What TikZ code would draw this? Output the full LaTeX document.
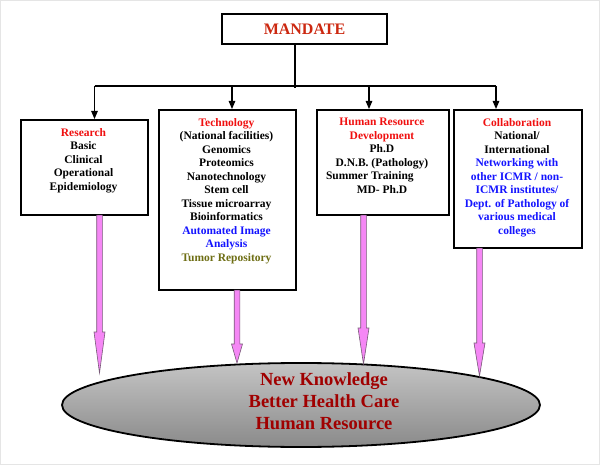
\documentclass[tikz,border=0pt]{standalone}
\usepackage{fontspec}
\setmainfont{Liberation Serif}
\usetikzlibrary{arrows.meta,shapes.geometric,calc}
\definecolor{hdred}{RGB}{240,16,16}
\definecolor{mandred}{RGB}{204,40,16}
\definecolor{txtblue}{RGB}{20,20,255}
\definecolor{olivetxt}{RGB}{110,110,20}
\definecolor{darkredtxt}{RGB}{160,0,0}
\definecolor{pinkfill}{RGB}{245,135,245}
\definecolor{arrowedge}{RGB}{120,90,120}
\definecolor{ellTop}{RGB}{196,196,196}
\definecolor{ellBot}{RGB}{138,138,138}
\begin{document}
\begin{tikzpicture}[x=1pt,y=-1pt,
  boxframe/.style={draw=black, line width=2.2pt, fill=white, inner sep=0pt, anchor=north west},
  boxtext/.style={inner sep=0pt, anchor=north, align=center, font=\fontsize{11.5}{13.5}\selectfont\bfseries},
  conn/.style={draw=black, line width=1.2pt},
  connarrow/.style={conn, -{Triangle[width=6.5pt,length=8pt]}},
  headlen/.store in=\hlen, headlen=20pt,
  fat/.style={draw=arrowedge, fill=pinkfill, line width=0.6pt,
    to path={let \p1=(\tikztostart), \p2=(\tikztotarget) in
      (\x1-2.8pt,\y1) -- (\x1-2.8pt,\y2+\hlen) -- (\x1-5.5pt,\y2+\hlen) -- (\x1,\y2)
      -- (\x1+5.5pt,\y2+\hlen) -- (\x1+2.8pt,\y2+\hlen) -- (\x1+2.8pt,\y1) -- cycle}}
]
\useasboundingbox (0,0) rectangle (600,465);
\fill[white] (0,0) rectangle (600,465);
\draw[black!10, line width=1pt] (0.5,0.5) rectangle (599.5,464.5);

% MANDATE
\node[draw=black, line width=1.2pt, minimum width=165pt, minimum height=30pt, inner sep=0pt,
      text=mandred, font=\fontsize{16}{18}\selectfont\bfseries] (mandate) at (304.5,29) {MANDATE};

% boxes
\node[boxframe, minimum width=127pt, minimum height=95pt] (res) at (20,119) {};
\node[boxframe, minimum width=137pt, minimum height=180pt] (tech) at (158,109) {};
\node[boxframe, minimum width=132pt, minimum height=105pt] (hr) at (316,109) {};
\node[boxframe, minimum width=128pt, minimum height=138pt] (col) at (453,109) {};

\node[boxtext] (restext) at (83.5,128) {\textcolor{hdred}{Research}\\Basic\\Clinical\\Operational\\Epidemiology};
\node[boxtext] (techtext) at (226.5,118) {\textcolor{hdred}{Technology}\\(National facilities)\\Genomics\\Proteomics\\Nanotechnology\\Stem cell\\Tissue microarray\\Bioinformatics\\\textcolor{txtblue}{Automated Image}\\\textcolor{txtblue}{Analysis}\\\textcolor{olivetxt}{Tumor Repository}};
\node[boxtext] (hrtext) at (382,118) {\textcolor{hdred}{Human Resource}\\\textcolor{hdred}{Development}\\Ph.D\\D.N.B. (Pathology)\\\makebox[112pt][l]{Summer Training}\\MD- Ph.D};
\node[boxtext] (coltext) at (517,118) {\textcolor{hdred}{Collaboration}\\National/\\International\\\textcolor{txtblue}{Networking with}\\\textcolor{txtblue}{other ICMR / non-}\\\textcolor{txtblue}{ICMR institutes/}\\\textcolor{txtblue}{Dept. of Pathology of}\\\textcolor{txtblue}{various medical}\\\textcolor{txtblue}{colleges}};

% connectors from MANDATE
\coordinate (jc) at (295,86);
\coordinate (j1) at (94.5,86);
\coordinate (j2) at (232,86);
\coordinate (j3) at (369,86);
\coordinate (j4) at (496,86);
\draw[conn] (mandate.south -| jc) -- ($(jc)+(0,2)$);
\draw[conn] (j1) -- (j4);
\draw[connarrow] (j1) -- (j1 |- res.north);
\draw[connarrow] (j2) -- (j2 |- tech.north);
\draw[connarrow] (j3) -- (j3 |- hr.north);
\draw[connarrow] (j4) -- (j4 |- col.north);

% outcome ellipse
\node[ellipse, draw=black, line width=1.8pt, top color=ellTop, bottom color=ellBot,
      minimum width=478pt, minimum height=84pt, inner sep=0pt] (out) at (301,405) {};
\node[inner sep=0pt, align=center, text=darkredtxt,
      font=\fontsize{18.5}{22}\selectfont\bfseries] (outtext) at (324,401) {New Knowledge\\Better Health Care\\Human Resource};

% pink arrows
\coordinate (s1) at (99.5,214); \coordinate (t1) at (99.5,373);
\coordinate (s2) at (237,289);  \coordinate (t2) at (237,363);
\coordinate (s3) at (363.5,214); \coordinate (t3) at (363.5,364);
\coordinate (s4) at (479.5,247); \coordinate (t4) at (479.5,376);
\draw[fat, headlen=41pt] ($(s1)+(0,1.2)$) to (t1);
\draw[fat, headlen=19pt] ($(s2)+(0,1.2)$) to (t2);
\draw[fat, headlen=36pt] ($(s3)+(0,1.2)$) to (t3);
\draw[fat, headlen=33pt] ($(s4)+(0,1.2)$) to (t4);
\end{tikzpicture}
\end{document}
